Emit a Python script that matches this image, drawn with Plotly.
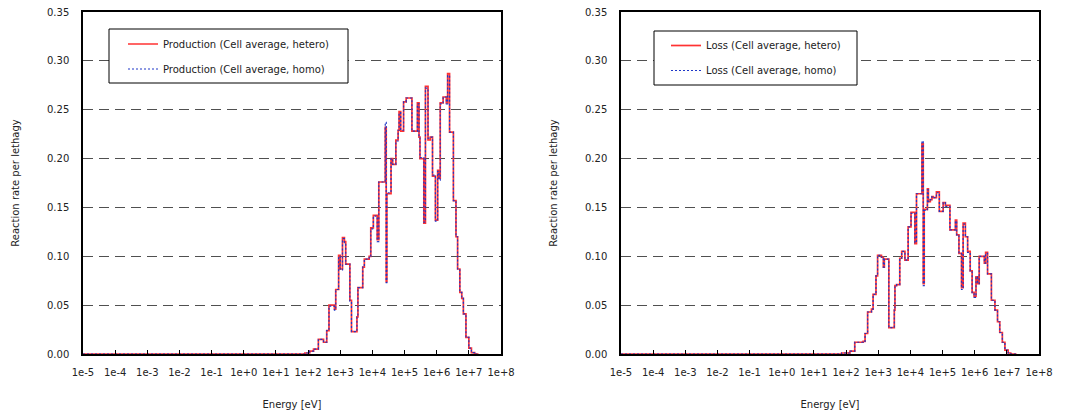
import plotly.graph_objects as go

# ---------------- data ----------------
# group boundaries as log10(E [eV]); one value per group (reaction rate per lethargy)
prod_edges_log10 = [-5, 1.90, 2.05, 2.17, 2.32, 2.48, 2.58, 2.65, 2.82, 2.86, 2.95, 3.00, 3.07, 3.13,
                    3.17, 3.30, 3.35, 3.52, 3.55, 3.70, 3.75, 3.90, 3.95, 4.03, 4.15, 4.20, 4.40, 4.43,
                    4.45, 4.58, 4.63, 4.73, 4.80, 4.83, 4.88, 4.97, 5.05, 5.23, 5.40, 5.45, 5.48, 5.60,
                    5.65, 5.73, 5.80, 5.87, 5.96, 6.03, 6.07, 6.11, 6.20, 6.30, 6.34, 6.40, 6.52, 6.60,
                    6.65, 6.72, 6.78, 6.83, 6.91, 7.00, 7.08, 7.18, 7.30]
prod_hetero = [0, 0.001, 0.003, 0.005, 0.015, 0.012, 0.024, 0.050, 0.046, 0.066, 0.101, 0.087, 0.119,
               0.115, 0.092, 0.055, 0.023, 0.038, 0.068, 0.089, 0.097, 0.100, 0.129, 0.142, 0.117,
               0.176, 0.232, 0.074, 0.164, 0.200, 0.194, 0.219, 0.229, 0.248, 0.228, 0.258, 0.262,
               0.228, 0.257, 0.222, 0.200, 0.134, 0.274, 0.219, 0.222, 0.182, 0.137, 0.188, 0.180,
               0.257, 0.263, 0.257, 0.287, 0.227, 0.157, 0.120, 0.087, 0.063, 0.057, 0.041, 0.017,
               0.006, 0.0015, 0]
prod_homo = [0, 0.001, 0.003, 0.005, 0.015, 0.012, 0.024, 0.049, 0.045, 0.066, 0.100, 0.086, 0.118,
             0.114, 0.092, 0.054, 0.023, 0.039, 0.068, 0.089, 0.097, 0.100, 0.128, 0.141, 0.115,
             0.176, 0.237, 0.073, 0.165, 0.200, 0.194, 0.218, 0.229, 0.247, 0.229, 0.258, 0.262,
             0.228, 0.256, 0.222, 0.201, 0.135, 0.272, 0.221, 0.222, 0.183, 0.136, 0.187, 0.178,
             0.256, 0.263, 0.256, 0.285, 0.227, 0.157, 0.120, 0.087, 0.063, 0.057, 0.041, 0.017,
             0.006, 0.0015, 0]

loss_edges_log10 = [-5, 1.86, 2.12, 2.27, 2.53, 2.59, 2.67, 2.79, 2.84, 2.93, 2.98, 3.10, 3.16, 3.19,
                    3.33, 3.50, 3.52, 3.57, 3.67, 3.73, 3.83, 3.93, 4.02, 4.14, 4.19, 4.36, 4.40, 4.43,
                    4.53, 4.56, 4.62, 4.67, 4.71, 4.81, 4.90, 5.02, 5.09, 5.23, 5.40, 5.44, 5.51, 5.59,
                    5.64, 5.71, 5.78, 5.86, 5.92, 5.98, 6.04, 6.09, 6.14, 6.30, 6.34, 6.40, 6.52, 6.63,
                    6.71, 6.78, 6.86, 6.94, 7.04, 7.12, 7.30]
loss_hetero = [0, 0.001, 0.003, 0.012, 0.013, 0.021, 0.043, 0.046, 0.061, 0.080, 0.101, 0.099, 0.089,
               0.097, 0.027, 0.045, 0.070, 0.071, 0.098, 0.105, 0.096, 0.130, 0.145, 0.113, 0.164,
               0.215, 0.072, 0.148, 0.169, 0.156, 0.158, 0.161, 0.160, 0.166, 0.146, 0.155, 0.152,
               0.127, 0.137, 0.122, 0.103, 0.068, 0.134, 0.120, 0.105, 0.085, 0.063, 0.059, 0.079,
               0.072, 0.100, 0.093, 0.104, 0.082, 0.055, 0.045, 0.033, 0.022, 0.012, 0.004, 0.001, 0]
loss_homo = [0, 0.001, 0.003, 0.012, 0.013, 0.021, 0.043, 0.046, 0.061, 0.080, 0.101, 0.099, 0.089,
             0.097, 0.027, 0.045, 0.070, 0.071, 0.098, 0.105, 0.096, 0.130, 0.144, 0.114, 0.164,
             0.218, 0.070, 0.147, 0.168, 0.156, 0.158, 0.161, 0.160, 0.165, 0.146, 0.155, 0.151,
             0.127, 0.136, 0.122, 0.103, 0.066, 0.133, 0.120, 0.104, 0.085, 0.062, 0.058, 0.079,
             0.072, 0.100, 0.093, 0.103, 0.082, 0.055, 0.045, 0.033, 0.022, 0.012, 0.004, 0.001, 0]

x_tick_exponents = [-5, -4, -3, -2, -1, 0, 1, 2, 3, 4, 5, 6, 7, 8]
x_ticktext = ["1e-5", "1e-4", "1e-3", "1e-2", "1e-1", "1e+0", "1e+1", "1e+2", "1e+3",
              "1e+4", "1e+5", "1e+6", "1e+7", "1e+8"]
y_tickvals = [0.00, 0.05, 0.10, 0.15, 0.20, 0.25, 0.30, 0.35]

names_left = ["Production (Cell average, hetero)", "Production (Cell average, homo)"]
names_right = ["Loss (Cell average, hetero)", "Loss (Cell average, homo)"]

# ---------------- figure ----------------
W, H = 1075, 417
FONT = "DejaVu Sans"


def step_xy(edges_log10, values):
    assert len(edges_log10) == len(values) + 1
    x = [10 ** e for e in edges_log10]
    y = list(values) + [values[-1]]
    return x, y


fig = go.Figure()
RED = "rgb(255,50,50)"
BLUE = "rgb(30,55,200)"

panels = [
    ("x", "y", "legend", prod_edges_log10, prod_hetero, prod_homo, names_left, "a"),
    ("x2", "y2", "legend2", loss_edges_log10, loss_hetero, loss_homo, names_right, "b"),
]
for xa, ya, lg, edges, het, hom, names, tag in panels:
    xh, yh = step_xy(edges, het)
    xm, ym = step_xy(edges, hom)
    fig.add_trace(go.Scatter(x=xh, y=yh, mode="lines", line=dict(color=RED, width=1.7, shape="hv"),
                             name=names[0], xaxis=xa, yaxis=ya, legend=lg, legendgroup=tag + "1"))
    fig.add_trace(go.Scatter(x=xm, y=ym, mode="lines",
                             line=dict(color=BLUE, width=1.2, shape="hv", dash="2px,2px"),
                             name=names[1], xaxis=xa, yaxis=ya, legend=lg, legendgroup=tag + "2"))

ydom = [1 - 354 / H, 1 - 12 / H]
common_x = dict(type="log", range=[-5, 8], tickvals=[10 ** k for k in x_tick_exponents],
                ticktext=x_ticktext, ticks="inside", ticklen=4, tickcolor="black", tickwidth=1,
                showline=True, linecolor="black", linewidth=1.5, mirror=True, showgrid=False,
                zeroline=False, ticklabelstandoff=8, automargin=False,
                tickfont=dict(family=FONT, size=10, color="#222"),
                title=dict(text="Energy [eV]", font=dict(family=FONT, size=10, color="#222"), standoff=24))
common_y = dict(range=[0, 0.35], tickvals=y_tickvals, tickformat=".2f", ticks="",
                showline=True, linecolor="black", linewidth=1.5, mirror=True,
                showgrid=True, gridcolor="#505050", gridwidth=1.2, griddash="10px,6px", zeroline=False,
                ticklabelstandoff=10, automargin=False,
                tickfont=dict(family=FONT, size=10, color="#222"),
                title=dict(text="Reaction rate per lethagy", font=dict(family=FONT, size=10, color="#222"),
                           standoff=25))

fig.update_layout(
    width=W, height=H, margin=dict(l=0, r=0, t=0, b=0),
    paper_bgcolor="white", plot_bgcolor="white",
    font=dict(family=FONT, size=10, color="#222"),
    xaxis=dict(domain=[83 / W, 501 / W], anchor="y", **common_x),
    yaxis=dict(domain=ydom, anchor="x", **common_y),
    xaxis2=dict(domain=[621 / W, 1039 / W], anchor="y2", **common_x),
    yaxis2=dict(domain=ydom, anchor="x2", **common_y),
    legend=dict(x=123 / W, y=1 - 29.5 / H, xanchor="left", yanchor="top", bgcolor="rgba(0,0,0,0)",
                borderwidth=0, tracegroupgap=6, traceorder="grouped",
                font=dict(family=FONT, size=10, color="#222")),
    legend2=dict(x=666 / W, y=1 - 31 / H, xanchor="left", yanchor="top", bgcolor="rgba(0,0,0,0)",
                 borderwidth=0, tracegroupgap=6, traceorder="grouped",
                 font=dict(family=FONT, size=10, color="#222")),
    shapes=[
        dict(type="rect", xref="paper", yref="paper", x0=109 / W, x1=348 / W, y0=1 - 83 / H, y1=1 - 29 / H,
             line=dict(color="black", width=1), fillcolor="white", layer="above"),
        dict(type="rect", xref="paper", yref="paper", x0=654 / W, x1=857 / W, y0=1 - 85 / H, y1=1 - 31 / H,
             line=dict(color="black", width=1), fillcolor="white", layer="above"),
    ],
)

fig.write_html("out.html")
